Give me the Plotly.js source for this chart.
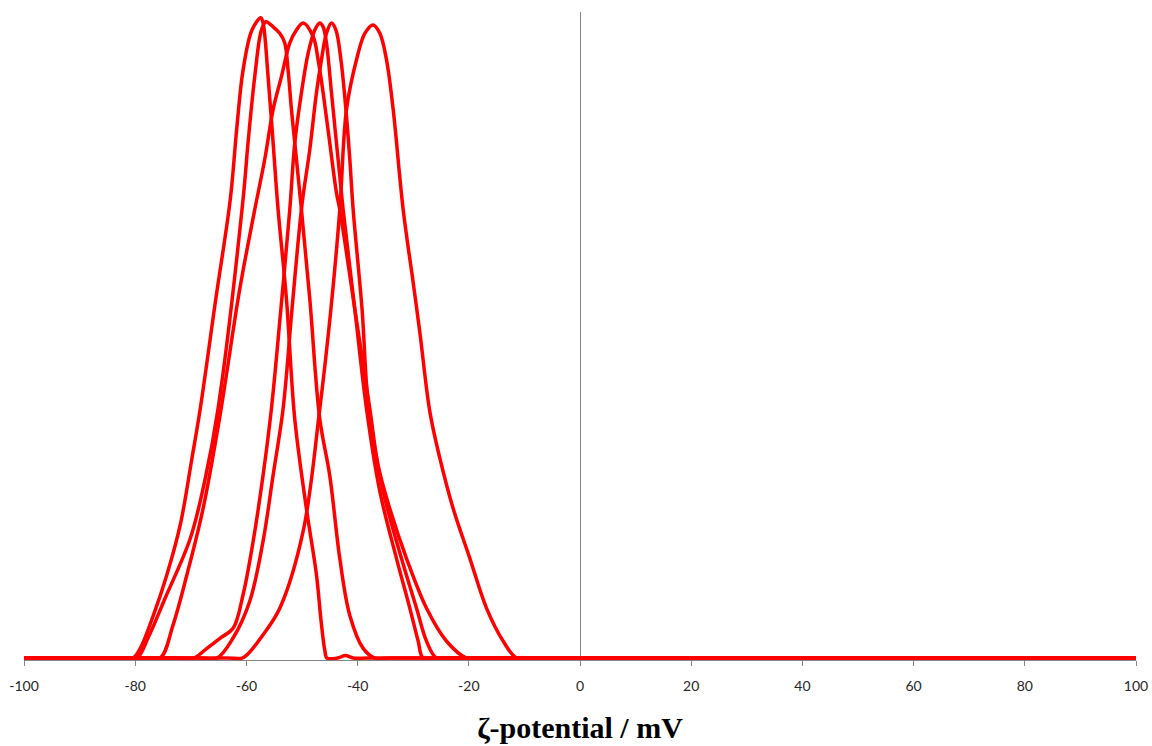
<!DOCTYPE html>
<html>
<head>
<meta charset="utf-8">
<script src="https://cdn.plot.ly/plotly-3.0.1.min.js"></script>
<style>
  html, body { margin: 0; padding: 0; background: #fff; }
  #chart { width: 1152px; height: 746px; }
</style>
</head>
<body>
<div id="chart"></div>
<script>
// ζ-potential distributions (x in mV, y = relative intensity, arbitrary units)
const zetaA = [-100, -83, -80.4, -79.1, -76.7, -74.3, -71.9, -69.8, -68.3, -65.5, -62.9, -61.7, -60.6, -59.0, -57.4, -57.0, -56.1, -55.2, -54.3, -52.8, -51.3, -49.2, -47.4, -46.6, -45.9, -45.5, -43.6, -42.2, -40.8, -38, 100];
const intA  = [0, 0, 0, 1.5, 6.7, 12.9, 20.6, 30.9, 38.6, 55.6, 71.0, 82.3, 91.0, 97.2, 99.1, 98.3, 90.0, 79.8, 69.4, 55.6, 37.0, 23.1, 12.9, 6.0, 1.2, 0, 0, 0.4, 0, 0, 0];

const zetaB = [-100, -82.5, -79.7, -77.7, -74.6, -70.1, -67.4, -65.1, -60.6, -59.7, -58.5, -57.3, -56.5, -55.2, -54.0, -53.1, -52.5, -51.9, -51.0, -50.1, -48.6, -46.8, -45.0, -43.2, -41.4, -39.0, -36.9, -34, 100];
const intB  = [0, 0, 0, 3.1, 9.3, 18.5, 27.8, 38.6, 71.0, 79.8, 90.0, 97.2, 98.5, 97.7, 96.7, 95.2, 91.0, 84.9, 77.2, 69.4, 55.6, 37.0, 28.2, 15.4, 6.6, 1.5, 0, 0, 0];

const zetaC = [-100, -78.5, -75.5, -73.2, -70.7, -67.8, -64.7, -61.2, -58.5, -56.7, -55.2, -53.7, -52.2, -51.0, -49.8, -48.0, -47.1, -46.2, -45.0, -43.8, -43.2, -40.5, -37.8, -36.3, -34.2, -31.2, -27.6, -24.0, -20.4, -17.5, 100];
const intC  = [0, 0, 0, 5.1, 12.9, 23.1, 37.8, 57.1, 69.4, 77.2, 84.9, 90.0, 95.2, 97.2, 98.3, 96.2, 92.6, 87.5, 79.7, 72.0, 69.4, 54.0, 38.6, 29.8, 23.1, 15.4, 7.7, 2.6, 0, 0, 0];

const zetaD = [-100, -72.5, -69.5, -67.1, -64.7, -62.4, -60.6, -58.8, -57.0, -55.5, -53.8, -52.2, -51.3, -50.1, -48.9, -47.7, -46.8, -46.2, -45.6, -44.7, -43.8, -42.6, -40.5, -38.4, -36.0, -33.0, -30.6, -29.1, -28.2, -25.3, 100];
const intD  = [0, 0, 0, 1.5, 3.1, 4.6, 9.8, 18.0, 28.3, 38.6, 54.0, 69.4, 79.7, 87.5, 93.6, 97.2, 98.3, 97.7, 95.2, 87.5, 79.7, 69.4, 54.0, 38.6, 25.8, 15.4, 7.7, 2.6, 0, 0, 0];

const zetaE = [-100, -68.3, -65.3, -62.4, -59.4, -57.0, -55.2, -53.4, -51.8, -50.0, -48.6, -47.4, -46.5, -45.6, -44.7, -43.9, -43.0, -42.1, -41.4, -40.8, -39.2, -38.0, -35.4, -32.1, -29.4, -27.6, -25.8, -22.8, 100];
const intE  = [0, 0, 0, 3.1, 8.8, 18.1, 28.3, 38.6, 54.0, 70.2, 78.7, 87.5, 92.6, 96.7, 98.3, 97.2, 92.6, 84.9, 77.2, 69.4, 54.0, 38.6, 25.8, 15.4, 7.7, 2.6, 0, 0, 0];

const zetaF = [-100, -63.5, -60.8, -59.9, -57.0, -54.0, -49.8, -46.8, -44.8, -43.2, -42.0, -40.2, -38.7, -37.2, -36.0, -34.8, -33.6, -31.8, -30.0, -28.8, -27.0, -25.2, -22.8, -19.8, -16.8, -13.8, -11.4, -8.5, 100];
const intF  = [0, 0, 0, 0.5, 3.6, 7.7, 19.6, 38.6, 54.0, 69.4, 84.9, 92.6, 96.7, 98.0, 96.7, 92.6, 84.9, 69.4, 58.1, 50.4, 38.1, 30.9, 23.1, 15.4, 7.7, 2.6, 0, 0, 0];

const tickVals = [-100, -80, -60, -40, -20, 0, 20, 40, 60, 80, 100];
const tickText = ['-100', '-80', '-60', '-40', '-20', '0', '20', '40', '60', '80', '100'];

const series = [
  [zetaA, intA], [zetaB, intB], [zetaC, intC],
  [zetaD, intD], [zetaE, intE], [zetaF, intF]
];

const traces = series.map(([x, y]) => ({
  type: 'scatter',
  mode: 'lines',
  x: x,
  y: y,
  line: { color: '#ff0000', width: 3.5, shape: 'spline', smoothing: 1 },
  hoverinfo: 'x+y',
  showlegend: false
}));

const layout = {
  width: 1152,
  height: 746,
  margin: { l: 24, r: 16, t: 12, b: 86 },
  paper_bgcolor: '#ffffff',
  plot_bgcolor: '#ffffff',
  showlegend: false,
  xaxis: {
    range: [-100, 100],
    tickmode: 'array',
    tickvals: tickVals,
    ticktext: tickText,
    ticks: 'outside',
    ticklen: 5,
    tickwidth: 1,
    tickcolor: '#868686',
    showline: true,
    linecolor: '#868686',
    linewidth: 1,
    showgrid: false,
    zeroline: true,
    zerolinecolor: '#868686',
    zerolinewidth: 1,
    ticklabelstandoff: 8,
    tickfont: { family: 'Lato, "Open Sans", sans-serif', size: 14, color: '#262626' },
    title: {
      text: 'ζ-potential / mV',
      font: { family: '"Liberation Serif", "Times New Roman", serif', size: 30, color: '#000000', weight: 'bold' },
      standoff: 24
    },
    automargin: false,
    fixedrange: true
  },
  yaxis: {
    range: [-0.3, 100],
    visible: false,
    showgrid: false,
    zeroline: false,
    fixedrange: true
  }
};

Plotly.newPlot('chart', traces, layout, { displayModeBar: false, staticPlot: true });
</script>
</body>
</html>
